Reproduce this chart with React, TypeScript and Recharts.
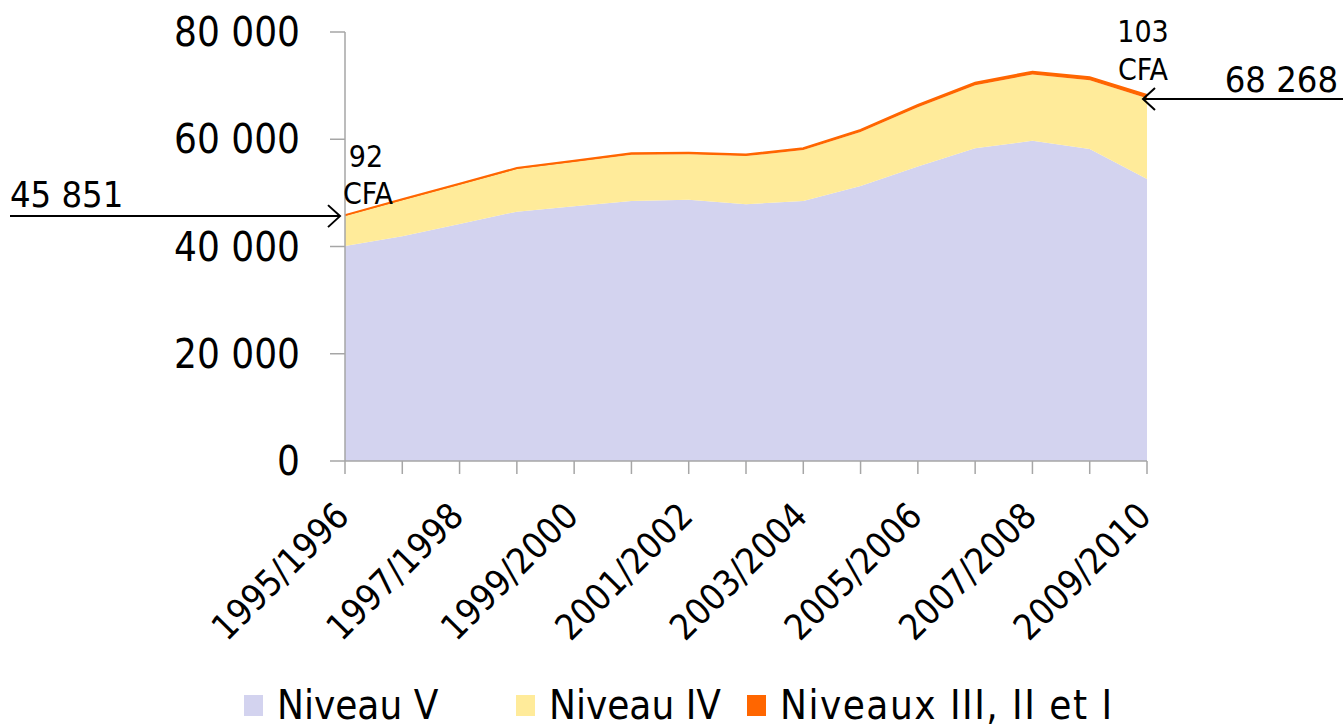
import React from "react";
import { AreaChart, Area, XAxis, YAxis, Legend, ReferenceDot } from "recharts";

const categories = [
  "1995/1996", "1996/1997", "1997/1998", "1998/1999", "1999/2000",
  "2000/2001", "2001/2002", "2002/2003", "2003/2004", "2004/2005",
  "2005/2006", "2006/2007", "2007/2008", "2008/2009", "2009/2010",
];
const niveauV = [40100, 41900, 44200, 46500, 47500, 48500, 48700, 47900, 48500, 51300, 54900, 58300, 59700, 58200, 52600];
const niveauIV = [5611, 6740, 7310, 7930, 8270, 8630, 8510, 8960, 9480, 10050, 11070, 11775, 12380, 12790, 15068];
const niveauxIII = [140, 160, 190, 210, 230, 250, 280, 300, 330, 370, 420, 470, 520, 560, 600];
const yTicks = [0, 20000, 40000, 60000, 80000];
const seriesNames = ["Niveau V", "Niveau IV", "Niveaux III, II et I"];
const seriesColors = ["#D3D3EF", "#FFEB9A", "#FF6600"];
const cfaStart = "92";
const cfaEnd = "103";

const FONT = "'DejaVu Sans Condensed', 'DejaVu Sans', sans-serif";

const data = categories.map((c, i) => ({
  cat: c,
  v: niveauV[i],
  iv: niveauIV[i],
  iii: niveauxIII[i],
}));

const totals = categories.map((_, i) => niveauV[i] + niveauIV[i] + niveauxIII[i]);
const fmt = (n: number) => String(Math.round(n)).replace(/\B(?=(\d{3})+(?!\d))/g, " ");

const XTick = (props: any) => {
  const { x, y, payload, index } = props;
  if (index % 2 !== 0) return null;
  return (
    <g transform={`translate(${x - 13},${y + 23}) rotate(-45)`}>
      <text x={0} y={0} dy="0.75em" textAnchor="end" fontSize={36} fontFamily={FONT} fill="#000">
        {payload.value}
      </text>
    </g>
  );
};

const StartAnnot = (p: any) => {
  const { cx, cy } = p;
  if (cx == null || cy == null) return null;
  const ay = cy + 1;
  return (
    <g>
      <line x1={cx - 335} y1={ay} x2={cx - 5} y2={ay} stroke="#000" strokeWidth={2} />
      <polyline points={`${cx - 17},${ay - 11} ${cx - 5},${ay} ${cx - 17},${ay + 11}`} fill="none" stroke="#000" strokeWidth={2} />
      <text x={cx - 335} y={cy - 8} fontSize={36} fontFamily={FONT} fill="#000">{fmt(totals[0])}</text>
      <text x={cx + 21} y={cy - 48} fontSize={30} fontFamily={FONT} fill="#000" textAnchor="middle">{cfaStart}</text>
      <text x={cx + 23} y={cy - 11} fontSize={30} fontFamily={FONT} fill="#000" textAnchor="middle">CFA</text>
    </g>
  );
};

const EndAnnot = (p: any) => {
  const { cx, cy } = p;
  if (cx == null || cy == null) return null;
  const ay = cy + 4;
  const tip = cx - 4;
  return (
    <g>
      <line x1={tip} y1={ay} x2={cx + 200} y2={ay} stroke="#000" strokeWidth={2} />
      <polyline points={`${tip + 12},${ay - 11} ${tip},${ay} ${tip + 12},${ay + 11}`} fill="none" stroke="#000" strokeWidth={2} />
      <text x={cx + 191} y={cy - 3} fontSize={36} fontFamily={FONT} fill="#000" textAnchor="end">{fmt(totals[totals.length - 1])}</text>
      <text x={cx - 4} y={cy - 53} fontSize={30} fontFamily={FONT} fill="#000" textAnchor="middle">{cfaEnd}</text>
      <text x={cx - 4} y={cy - 15} fontSize={30} fontFamily={FONT} fill="#000" textAnchor="middle">CFA</text>
    </g>
  );
};

const legendLefts = [244, 516, 747];

const LegendContent = () => (
  <div style={{ position: "relative", height: 45, width: 1343, fontFamily: FONT, fontSize: 40, color: "#000", lineHeight: "45px" }}>
    {seriesNames.map((n, i) => (
      <div key={n} style={{ position: "absolute", left: legendLefts[i], top: 0, display: "flex", alignItems: "center", height: 45 }}>
        <div style={{ width: 19, height: 21, background: seriesColors[i], marginRight: 14 }} />
        <span style={{ whiteSpace: "nowrap", letterSpacing: i === 2 ? 1.5 : 0 }}>{n}</span>
      </div>
    ))}
  </div>
);

export default function App() {
  return (
    <div style={{ position: "absolute", left: 0, top: 0, width: 1343, height: 728, background: "#fff" }}>
      <AreaChart width={1343} height={728} data={data} margin={{ top: 32, right: 196, bottom: 0, left: 0 }}>
        <XAxis
          dataKey="cat"
          interval={0}
          tick={<XTick />}
          tickSize={13}
          tickMargin={2}
          height={222}
          stroke="#A6A6A6"
          axisLine={{ stroke: "#A6A6A6", strokeWidth: 1.5 }}
          tickLine={{ stroke: "#A6A6A6", strokeWidth: 1.5 }}
        />
        <YAxis
          width={345}
          domain={[0, 80000]}
          ticks={yTicks}
          tickFormatter={(v: number) => fmt(v)}
          tickSize={15}
          tickMargin={30}
          axisLine={{ stroke: "#A6A6A6", strokeWidth: 1.5 }}
          tickLine={{ stroke: "#A6A6A6", strokeWidth: 1.5 }}
          tick={{ fontSize: 40, fontFamily: FONT, fill: "#000" }}
          allowDataOverflow
        />
        <Area type="linear" dataKey="v" stackId="1" name={seriesNames[0]} fill={seriesColors[0]} fillOpacity={1} stroke="none" isAnimationActive={false} />
        <Area type="linear" dataKey="iv" stackId="1" name={seriesNames[1]} fill={seriesColors[1]} fillOpacity={1} stroke="none" isAnimationActive={false} />
        <Area type="linear" dataKey="iii" stackId="1" name={seriesNames[2]} fill={seriesColors[2]} fillOpacity={1} stroke={seriesColors[2]} strokeWidth={2} isAnimationActive={false} />
        <ReferenceDot x={categories[0]} y={totals[0]} ifOverflow="visible" shape={<StartAnnot />} />
        <ReferenceDot x={categories[categories.length - 1]} y={totals[totals.length - 1]} ifOverflow="visible" shape={<EndAnnot />} />
        <Legend verticalAlign="bottom" content={<LegendContent />} wrapperStyle={{ left: 0, width: 1343, bottom: 0, height: 45 }} />
      </AreaChart>
    </div>
  );
}
